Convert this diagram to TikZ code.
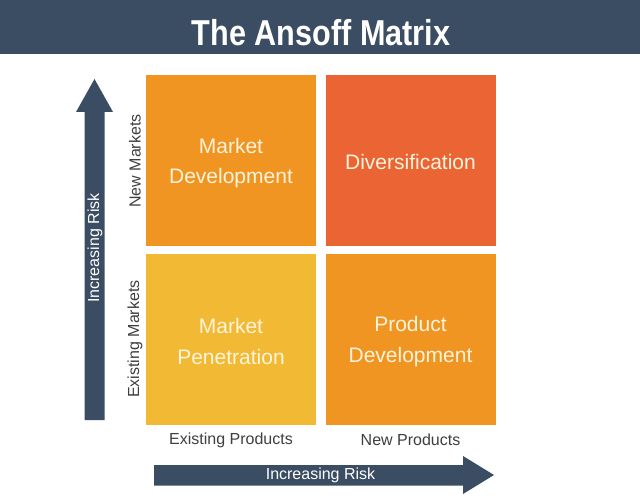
\documentclass[tikz,border=0pt]{standalone}
\usepackage{fontspec}
\setmainfont{Liberation Sans}
\newfontfamily\titlefont[FakeStretch=0.85]{Liberation Sans Bold}
\definecolor{slate}{HTML}{3B4D63}
\definecolor{orangeA}{HTML}{F09422}
\definecolor{redA}{HTML}{EA6434}
\definecolor{yellowA}{HTML}{F2BA34}
\definecolor{cream}{HTML}{FFF4DC}
\definecolor{labelgray}{HTML}{3F3F3F}
\tikzset{
  cell/.style={rectangle, minimum width=170pt, minimum height=171pt, inner sep=0pt},
  celltext/.style={text=cream, align=center, inner sep=0pt, font=\fontsize{21}{30.5}\selectfont},
  axislabel/.style={text=labelgray, font=\fontsize{16}{19}\selectfont, inner sep=0pt},
  arrowlabel/.style={text=white, font=\fontsize{16}{19}\selectfont, inner sep=0pt},
}
\begin{document}
\begin{tikzpicture}[x=1pt,y=-1pt]
\useasboundingbox (0,0) rectangle (640,500);
\fill[white] (0,0) rectangle (640,500);
% title bar
\fill[slate] (0,0) rectangle (640,54);
\node[anchor=base, text=white, inner sep=0pt, font=\titlefont\fontsize{36}{40}\selectfont] (title) at (321,45.5) {The Ansoff Matrix};
% cells
\node[cell, fill=orangeA] (md) at (231,160.5) {};
\node[cell, fill=redA] (dv) at (410.5,160.5) {};
\node[cell, fill=yellowA] (mp) at (231,339) {};
\node[cell, fill=orangeA] (pd) at (410.5,339) {};
\node[celltext] (mdt) at ([yshift=-2.5pt]md.center) {Market\\Development};
\node[celltext] (dvt) at ([yshift=-1.5pt]dv.center) {Diversification};
\node[celltext] (mpt) at ([yshift=-2.5pt]mp.center) {Market\\Penetration};
\node[celltext] (pdt) at ([yshift=-2.5pt]pd.center) {Product\\Development};
% side labels
\node[axislabel, rotate=90] (nm) at (135,161) {New Markets};
\node[axislabel, rotate=90] (em) at (135,339) {Existing Markets};
\node[axislabel] (ep) at (231,440) {Existing Products};
\node[axislabel] (np) at (410.5,440) {New Products};
% vertical arrow
\fill[slate] (84.5,420) -- (84.5,112) -- (76,112) -- (94.5,79) -- (113,112) -- (104.5,112) -- (104.5,420) -- cycle;
\node[arrowlabel, rotate=90] (vr) at (95,248) {Increasing Risk};
% horizontal arrow
\fill[slate] (154,465) -- (463,465) -- (463,456) -- (494,475) -- (463,494) -- (463,485.5) -- (154,485.5) -- cycle;
\node[arrowlabel] (hr) at (320.5,475) {Increasing Risk};
\end{tikzpicture}
\end{document}
